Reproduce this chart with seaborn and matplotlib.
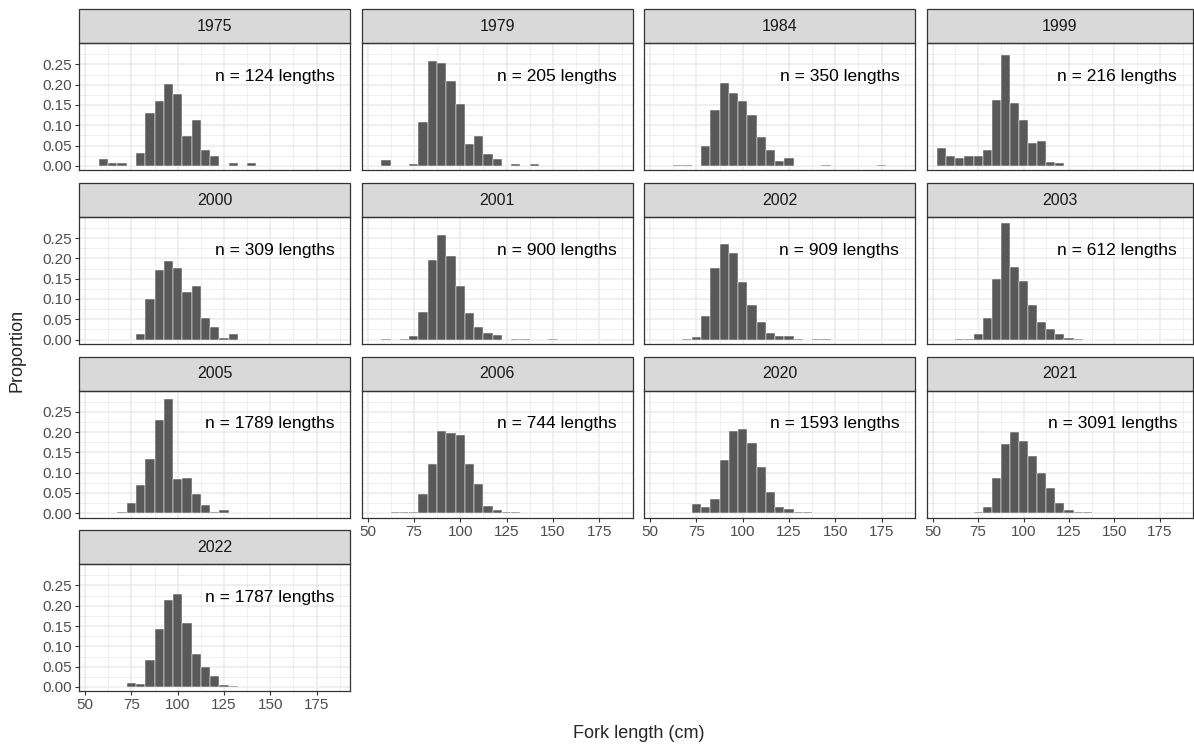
import numpy as np
import pandas as pd
import matplotlib
matplotlib.use("Agg")
import matplotlib.pyplot as plt
from matplotlib.patches import Rectangle
import seaborn as sns

# Centros de clase (cm), clases de 5 cm
bin_mid = np.arange(55, 180, 5)

years = [1975, 1979, 1984, 1999, 2000, 2001, 2002, 2003, 2005, 2006, 2020, 2021, 2022]
n_lengths = [124, 205, 350, 216, 309, 900, 909, 612, 1789, 744, 1593, 3091, 1787]

# Proporciones por clase (55, 60, ..., 175)
p1975 = [0, .016, .008, .008, 0, .032, .129, .161, .202, .177, .073, .113, .040, .024, 0, .008, 0, .008, 0, 0, 0, 0, 0, 0, 0]
p1979 = [0, .015, 0, 0, .005, .108, .259, .254, .210, .152, .055, .074, .030, .016, 0, .005, 0, .005, 0, 0, 0, 0, 0, 0, 0]
p1984 = [0, 0, .003, .003, 0, .049, .138, .203, .179, .160, .126, .072, .039, .012, .019, 0, 0, 0, .003, 0, 0, 0, 0, 0, .003]
p1999 = [.043, .025, .020, .025, .025, .040, .162, .273, .154, .112, .057, .061, .010, .006, 0, 0, 0, 0, 0, 0, 0, 0, 0, 0, 0]
p2000 = [0, 0, 0, 0, 0, .014, .101, .172, .194, .176, .117, .133, .052, .030, .003, .014, 0, 0, 0, 0, 0, 0, 0, 0, 0]
p2001 = [0, .002, 0, .002, .009, .067, .195, .257, .206, .133, .065, .031, .017, .012, 0, .002, .002, 0, 0, .001, 0, 0, 0, 0, 0]
p2002 = [0, 0, 0, .002, .006, .057, .177, .235, .213, .143, .084, .042, .017, .008, .008, .001, 0, .001, .001, 0, 0, 0, 0, 0, 0]
p2003 = [0, 0, .002, .002, .014, .054, .148, .286, .180, .145, .086, .043, .026, .014, .004, .002, 0, 0, 0, 0, 0, 0, 0, 0, 0]
p2005 = [0, 0, 0, .002, .024, .070, .134, .230, .281, .085, .086, .047, .021, .004, .007, .001, 0, .001, 0, 0, 0, 0, 0, 0, 0]
p2006 = [.001, 0, .002, .002, .002, .047, .122, .203, .198, .192, .121, .073, .017, .007, .002, .004, .001, 0, 0, 0, 0, 0, 0, 0, 0]
p2020 = [0, .001, 0, .001, .022, .015, .036, .132, .202, .208, .174, .115, .052, .016, .011, .004, .002, 0, .001, .001, 0, 0, 0, 0, 0]
p2021 = [0, 0, 0, .001, .004, .016, .087, .170, .200, .177, .140, .098, .061, .024, .007, .003, .002, .001, .001, 0, 0, 0, 0, 0, 0]
p2022 = [0, 0, 0, 0, .009, .008, .066, .142, .215, .230, .157, .080, .048, .028, .004, .002, .001, .001, 0, 0, 0, 0, 0, 0, 0]

props = [p1975, p1979, p1984, p1999, p2000, p2001, p2002, p2003,
         p2005, p2006, p2020, p2021, p2022]

# Tabla larga para seaborn
rows = []
for yr, pr in zip(years, props):
    for mid, val in zip(bin_mid, pr):
        if val > 0:
            rows.append({"year": yr, "length": mid, "prop": val})
df = pd.DataFrame(rows)

sns.set_theme(style="white")
plt.rcParams["font.family"] = ["Liberation Sans", "DejaVu Sans"]

g = sns.FacetGrid(df, col="year", col_order=years, col_wrap=4,
                  sharex=True, sharey=True, height=2, aspect=1.5, despine=False)
g.map_dataframe(sns.histplot, x="length", weights="prop",
                binwidth=5, binrange=(52.5, 177.5),
                color="#595959", edgecolor="white", linewidth=0.35, alpha=1)

fig = g.figure
W, H = 1194, 745
fig.set_size_inches(W / 100, H / 100)
g.set_titles("")
g.set_axis_labels("", "")

# Posición de los paneles (px)
col_left = [79.3, 361.8, 644.3, 927.0]
col_width = [270.7, 270.7, 270.7, 265.7]
row_top = [43.3 + k * 173.7 for k in range(4)]
panel_h = 127.0
px_per_cm = 270.7 / (193.0 - 46.9)
strip_px = 34.0

n_panels = len(years)
for i, yr in enumerate(years):
    ax = g.axes_dict[yr]
    r, c = divmod(i, 4)
    ax.set_position([col_left[c] / W, 1 - (row_top[r] + panel_h) / H,
                     col_width[c] / W, panel_h / H])
    ax.set_xlim(46.9, 46.9 + col_width[c] / px_per_cm)
    ax.set_ylim(-0.011, 0.302)
    ax.set_xticks([50, 75, 100, 125, 150, 175])
    ax.set_xticks(np.arange(62.5, 190, 25), minor=True)
    ax.set_yticks([0, 0.05, 0.10, 0.15, 0.20, 0.25])
    ax.set_yticks(np.arange(0.025, 0.3, 0.05), minor=True)
    ax.yaxis.set_major_formatter(matplotlib.ticker.FormatStrFormatter("%.2f"))
    ax.set_axisbelow(True)
    ax.grid(which="major", color="#EBEBEB", linewidth=1.1)
    ax.grid(which="minor", color="#EBEBEB", linewidth=0.55)
    for sp in ax.spines.values():
        sp.set_visible(True)
        sp.set_color("#333333")
        sp.set_linewidth(0.9)
    ax.tick_params(which="minor", length=0)
    ax.tick_params(which="major", length=3, width=0.8, color="#333333",
                   labelsize=11, labelcolor="#4D4D4D", pad=2)

    bottom = i + 4 >= n_panels
    left = c == 0
    ax.tick_params(axis="x", bottom=bottom, labelbottom=bottom)
    ax.tick_params(axis="y", left=left, labelleft=left)

    # Cabecera del panel (estilo ggplot)
    strip_h = strip_px / panel_h
    ax.add_patch(Rectangle((0, 1), 1, strip_h, transform=ax.transAxes,
                           facecolor="#D9D9D9", edgecolor="#333333",
                           linewidth=0.9, clip_on=False))
    ax.text(0.5, 1 + strip_h / 2, str(yr), transform=ax.transAxes,
            ha="center", va="center", fontsize=11.5, color="#1A1A1A")

    ax.text(184.5, 0.22, f"n = {n_lengths[i]} lengths", ha="right",
            va="center", fontsize=12.5, color="black")

fig.text(0.014, 0.53, "Proportion", rotation=90, ha="center", va="center",
         fontsize=13)
fig.text(0.535, 0.016, "Fork length (cm)", ha="center", va="center",
         fontsize=13)

fig.savefig("out.png", dpi=100)
